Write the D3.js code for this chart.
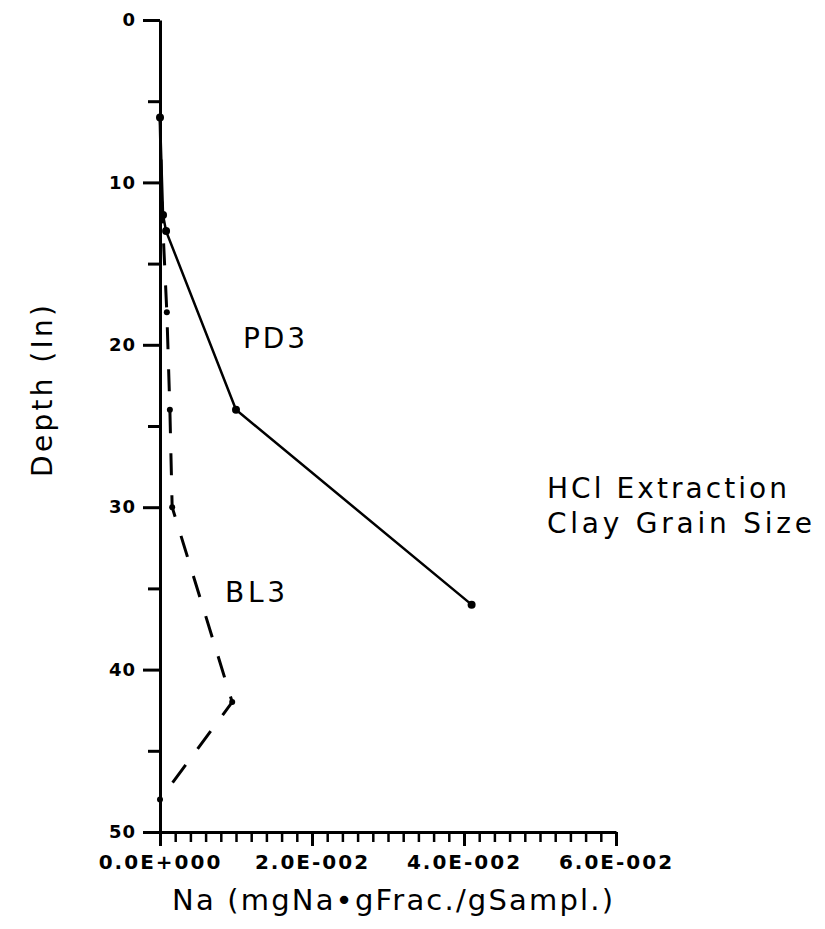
<!DOCTYPE html>
<html>
<head>
<meta charset="utf-8">
<script src="https://cdn.jsdelivr.net/npm/d3@7"></script>
<style>
  body { margin: 0; background: #fff; }
  text { font-family: "DejaVu Sans", sans-serif; fill: #000; }
</style>
</head>
<body>
<div id="chart-container"></div>
<script>
// Data: Na (mg) vs depth (in)
const pd3Na    = [0.0000, 0.0004, 0.0008, 0.0100, 0.0410];
const pd3Depth = [6, 12, 13, 24, 36];

const bl3Na    = [0.0000, 0.0003, 0.0009, 0.0013, 0.0016, 0.0095, 0.0000];
const bl3Depth = [6, 12, 18, 24, 30, 42, 48];

const depthTicks = [0, 10, 20, 30, 40, 50];
const depthMinor = [5, 15, 25, 35, 45];
const naTicks = [0, 0.02, 0.04, 0.06];
const naTickLabels = ["0.0E+000", "2.0E-002", "4.0E-002", "6.0E-002"];

const width = 825, height = 929;

const svg = d3.select("#chart-container")
  .append("svg")
  .attr("width", width)
  .attr("height", height);

const x = d3.scaleLinear().domain([0, 0.06]).range([160, 616]);
const y = d3.scaleLinear().domain([0, 50]).range([20, 832]);

// Y axis (depth)
const yAxis = svg.append("g")
  .attr("transform", `translate(${x(0)},0)`)
  .call(d3.axisLeft(y).tickValues(depthTicks).tickSize(17).tickSizeOuter(0)
    .tickFormat(d3.format("d")));
yAxis.select(".domain").attr("stroke-width", 3);
yAxis.selectAll(".tick line").attr("stroke-width", 3);
yAxis.selectAll(".tick text")
  .attr("x", -24)
  .style("font-size", "18px")
  .style("font-weight", "bold")
  .style("letter-spacing", "1px")
  .style("font-family", "DejaVu Sans");

svg.append("g")
  .attr("transform", `translate(${x(0)},0)`)
  .call(d3.axisLeft(y).tickValues(depthMinor).tickSize(12).tickFormat(""))
  .call(g => g.select(".domain").remove())
  .selectAll(".tick line").attr("stroke-width", 3);

// X axis (Na)
const minorNa = d3.range(0, 31).map(i => i * 0.002);
svg.append("g")
  .attr("transform", `translate(0,${y(50)})`)
  .call(d3.axisBottom(x).tickValues(minorNa).tickSize(10).tickSizeOuter(0).tickFormat(""))
  .call(g => g.select(".domain").attr("stroke-width", 3))
  .selectAll(".tick line").attr("stroke-width", 2.5);

const xAxis = svg.append("g")
  .attr("transform", `translate(0,${y(50)})`)
  .call(d3.axisBottom(x).tickValues(naTicks).tickSize(14)
    .tickFormat((d, i) => naTickLabels[i]));
xAxis.select(".domain").remove();
xAxis.selectAll(".tick line").attr("stroke-width", 3);
xAxis.selectAll(".tick text")
  .attr("y", 23)
  .style("font-size", "20px")
  .style("font-weight", "bold")
  .style("letter-spacing", "2px")
  .style("font-family", "DejaVu Sans");

// Lines
const pd3 = pd3Na.map((v, i) => ({ na: v, depth: pd3Depth[i] }));
const bl3 = bl3Na.map((v, i) => ({ na: v, depth: bl3Depth[i] }));

const line = d3.line()
  .x(d => x(d.na))
  .y(d => y(d.depth));

svg.append("path")
  .datum(bl3)
  .attr("fill", "none")
  .attr("stroke", "#000")
  .attr("stroke-width", 3)
  .attr("stroke-dasharray", "22,20")
  .attr("d", line);

svg.append("path")
  .datum(pd3)
  .attr("fill", "none")
  .attr("stroke", "#000")
  .attr("stroke-width", 2.5)
  .attr("d", line);

svg.selectAll(".pd3-pt")
  .data(pd3)
  .enter().append("circle")
  .attr("cx", d => x(d.na))
  .attr("cy", d => y(d.depth))
  .attr("r", 4);

svg.selectAll(".bl3-pt")
  .data(bl3)
  .enter().append("circle")
  .attr("cx", d => x(d.na))
  .attr("cy", d => y(d.depth))
  .attr("r", 3);

// Labels
function label(txt, x0, y0, len) {
  svg.append("text")
    .attr("x", x0).attr("y", y0)
    .attr("textLength", len)
    .attr("lengthAdjust", "spacing")
    .style("font-size", "28px")
    .text(txt);
}
label("PD3", 243, 348, 62);
label("BL3", 225, 602, 60);
label("HCl Extraction", 547, 498, 240);
label("Clay Grain Size", 547, 533, 265);

// Axis titles
svg.append("text")
  .attr("x", 172).attr("y", 910)
  .attr("textLength", 441)
  .attr("lengthAdjust", "spacing")
  .style("font-size", "29px")
  .text("Na  (mgNa•gFrac./gSampl.)");

svg.append("text")
  .attr("transform", "rotate(-90)")
  .attr("x", -477)
  .attr("y", 52)
  .attr("textLength", 172)
  .attr("lengthAdjust", "spacing")
  .style("font-size", "28px")
  .text("Depth  (In)");
</script>
</body>
</html>
